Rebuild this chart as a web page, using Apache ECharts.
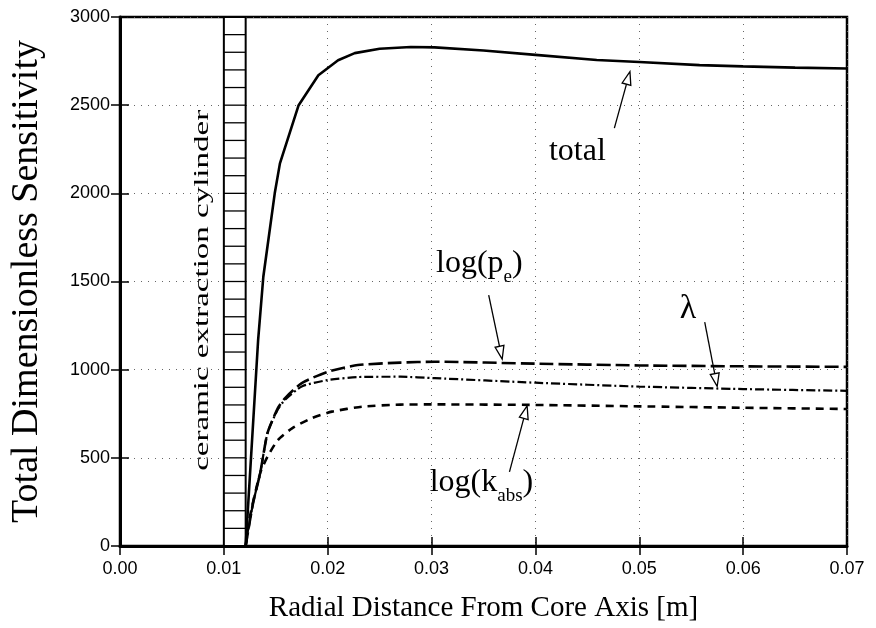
<!DOCTYPE html>
<html lang="en">
<head>
<meta charset="UTF-8">
<title>Total Dimensionless Sensitivity</title>
<script src="https://cdn.jsdelivr.net/npm/echarts@6/dist/echarts.min.js"></script>
<style>
html, body { margin: 0; padding: 0; background: #fff; }
#main { width: 876px; height: 628px; }
</style>
</head>
<body>
<div id="main"></div>
<script>
// axis range
var xMin = 0, xMax = 0.07, xStep = 0.01;
var yMin = 0, yMax = 3000, yStep = 500;

// curves
var totalX = [0.0121, 0.0133, 0.0138, 0.0149, 0.0154, 0.0172, 0.0191, 0.0210, 0.0226, 0.0250, 0.0280, 0.0303, 0.0350, 0.0400, 0.0459, 0.0500, 0.0558, 0.0600, 0.0650, 0.0700];
var totalY = [0, 1168, 1527, 2000, 2170, 2500, 2670, 2755, 2795, 2820, 2830, 2828, 2810, 2785, 2756, 2745, 2727, 2720, 2713, 2708];

var peX = [0.0121, 0.0128, 0.0135, 0.0142, 0.0152, 0.0159, 0.0175, 0.0200, 0.0229, 0.0270, 0.0303, 0.0400, 0.0500, 0.0600, 0.0700];
var peY = [0, 240, 414, 640, 782, 839, 924, 988, 1026, 1040, 1045, 1034, 1024, 1019, 1016];

var lambdaX = [0.0121, 0.0128, 0.0135, 0.0142, 0.0152, 0.0159, 0.0175, 0.0200, 0.0229, 0.0270, 0.0303, 0.0400, 0.0500, 0.0600, 0.0700];
var lambdaY = [0, 240, 414, 640, 775, 830, 905, 941, 958, 960, 952, 926, 904, 890, 880];

var kabsX = [0.0121, 0.0125, 0.0135, 0.0142, 0.0152, 0.0166, 0.0185, 0.0204, 0.0233, 0.0270, 0.0303, 0.0400, 0.0500, 0.0600, 0.0700];
var kabsY = [0, 164, 414, 506, 601, 669, 726, 762, 790, 802, 803, 800, 792, 784, 777];

// ceramic cylinder: x extent, hatch spacing
var cylinderX = [0.0100, 0.0121];
var cylinderStep = 100;

// annotations: label position and arrow (from -> tip) in data units
var notes = [
    { text: '{m|total}', align: 'left', x: 0.0413, y: 2215, from: [0.0476, 2370], tip: [0.0491, 2690] },
    { text: '{m|log(p}{s|e}{m|)}', align: 'center', x: 0.0346, y: 1580, from: [0.0355, 1423], tip: [0.0368, 1060] },
    { text: '{l|λ}', align: 'center', x: 0.0547, y: 1345, from: [0.0563, 1270], tip: [0.0575, 905] },
    { text: '{m|log(k}{s|abs}{m|)}', align: 'center', x: 0.0348, y: 340, from: [0.0375, 420], tip: [0.0392, 795] }
];
var cylinderLabel = { text: 'ceramic extraction cylinder', x: 0.0079, y: 1450 };

var serif = '"Liberation Serif", "Times New Roman", serif';
var sans = '"Liberation Sans", Arial, sans-serif';

function pairs(xs, ys) {
    var out = [];
    for (var i = 0; i < xs.length; i++) out.push([xs[i], ys[i]]);
    return out;
}

var myChart = echarts.init(document.getElementById('main'));

var option = {
    animation: false,
    backgroundColor: '#fff',
    grid: {
        left: 120, right: 29, top: 17, bottom: 82,
        containLabel: false, outerBoundsMode: 'none',
        show: true, borderColor: '#000', borderWidth: 2.5
    },
    xAxis: [{
        type: 'value', min: xMin, max: xMax, interval: xStep,
        name: 'Radial Distance From Core Axis [m]',
        nameLocation: 'middle', nameGap: 48,
        nameTextStyle: { fontFamily: serif, fontSize: 29, color: '#000' },
        axisLine: { show: true, lineStyle: { color: '#000', width: 3 } },
        axisTick: { show: true, inside: true, length: 9, lineStyle: { color: '#000', width: 1.5 } },
        axisLabel: {
            fontFamily: sans, fontSize: 18, color: '#000', margin: 14,
            formatter: function (v) { return v.toFixed(2); }
        },
        splitLine: { show: true, lineStyle: { color: '#666', width: 1, type: [1, 6] } }
    }, {
        type: 'value', position: 'top', min: xMin, max: xMax, interval: xStep,
        axisLine: { show: false },
        axisTick: { show: true, inside: true, length: 9, lineStyle: { color: '#000', width: 1.5 } },
        axisLabel: { show: false }, splitLine: { show: false }
    }],
    yAxis: [{
        type: 'value', min: yMin, max: yMax, interval: yStep,
        name: 'Total Dimensionless Sensitivity',
        nameLocation: 'middle', nameGap: 74,
        nameTextStyle: { fontFamily: serif, fontSize: 38, color: '#000' },
        axisLine: { show: true, lineStyle: { color: '#000', width: 3 } },
        axisTick: { show: true, inside: true, length: 9, lineStyle: { color: '#000', width: 1.5 } },
        axisLabel: {
            fontFamily: sans, fontSize: 18, color: '#000', margin: 10,
            formatter: function (v) { return String(v); }
        },
        splitLine: { show: true, lineStyle: { color: '#666', width: 1, type: [1, 6] } }
    }, {
        type: 'value', position: 'right', min: yMin, max: yMax, interval: yStep,
        axisLine: { show: false },
        axisTick: { show: true, inside: true, length: 9, lineStyle: { color: '#000', width: 1.5 } },
        axisLabel: { show: false }, splitLine: { show: false }
    }],
    series: [
        {
            type: 'custom', silent: true, z: 1,
            data: [[cylinderX[0], yMin, cylinderX[1], yMax]],
            encode: { x: [0, 2], y: [1, 3] },
            renderItem: function (params, api) {
                var p0 = api.coord([api.value(0), api.value(3)]);
                var p1 = api.coord([api.value(2), api.value(1)]);
                var kids = [{
                    type: 'rect',
                    shape: { x: p0[0], y: p0[1], width: p1[0] - p0[0], height: p1[1] - p0[1] },
                    style: { fill: '#fff', stroke: '#000', lineWidth: 2 }
                }];
                for (var v = api.value(1) + cylinderStep; v < api.value(3); v += cylinderStep) {
                    var py = api.coord([api.value(0), v])[1];
                    kids.push({
                        type: 'line',
                        shape: { x1: p0[0], y1: py, x2: p1[0], y2: py },
                        style: { stroke: '#000', lineWidth: 1.3 }
                    });
                }
                return { type: 'group', children: kids };
            }
        },
        {
            name: 'total', type: 'line', data: pairs(totalX, totalY), showSymbol: false, z: 3,
            lineStyle: { color: '#000', width: 2.6 }
        },
        {
            name: 'log(pe)', type: 'line', data: pairs(peX, peY), showSymbol: false, smooth: 0.2, z: 3,
            lineStyle: { color: '#000', width: 2.6, type: [14, 5] }
        },
        {
            name: 'lambda', type: 'line', data: pairs(lambdaX, lambdaY), showSymbol: false, smooth: 0.2, z: 3,
            lineStyle: { color: '#000', width: 2.2, type: [9, 3, 2, 3] }
        },
        {
            name: 'log(kabs)', type: 'line', data: pairs(kabsX, kabsY), showSymbol: false, smooth: 0.2, z: 3,
            lineStyle: { color: '#000', width: 2.6, type: [8, 6] }
        }
    ]
};

myChart.setOption(option);

// annotations placed through the chart's own coordinate conversion
function px(p) { return myChart.convertToPixel({ gridIndex: 0 }, p); }

var rich = {
    m: { fontFamily: serif, fontSize: 32, color: '#000', verticalAlign: 'bottom', padding: [0, 0, 7, 0] },
    s: { fontFamily: serif, fontSize: 19, color: '#000', verticalAlign: 'bottom' },
    l: { fontFamily: serif, fontSize: 34, color: '#000' }
};

var graphics = [];
notes.forEach(function (n) {
    var c = px([n.x, n.y]);
    graphics.push({
        type: 'text', x: c[0], y: c[1], z: 10,
        style: { text: n.text, rich: rich, align: n.align, verticalAlign: 'middle' }
    });
    var a = px(n.from), b = px(n.tip);
    var dx = b[0] - a[0], dy = b[1] - a[1], len = Math.sqrt(dx * dx + dy * dy);
    var ux = dx / len, uy = dy / len, hl = 13, hw = 4.5;
    var bx = b[0] - ux * hl, by = b[1] - uy * hl;
    graphics.push({
        type: 'line', z: 10,
        shape: { x1: a[0], y1: a[1], x2: bx, y2: by },
        style: { stroke: '#000', lineWidth: 1.3 }
    });
    graphics.push({
        type: 'polygon', z: 10,
        shape: { points: [b, [bx - uy * hw, by + ux * hw], [bx + uy * hw, by - ux * hw]] },
        style: { fill: '#fff', stroke: '#000', lineWidth: 1.3 }
    });
});

var cl = px([cylinderLabel.x, cylinderLabel.y]);
graphics.push({
    type: 'text', x: cl[0], y: cl[1], rotation: Math.PI / 2, scaleX: 1.5, z: 10,
    style: {
        text: cylinderLabel.text, fontFamily: serif, fontSize: 22, fill: '#000',
        align: 'center', verticalAlign: 'middle'
    }
});

myChart.setOption({ graphic: graphics });
</script>
</body>
</html>
